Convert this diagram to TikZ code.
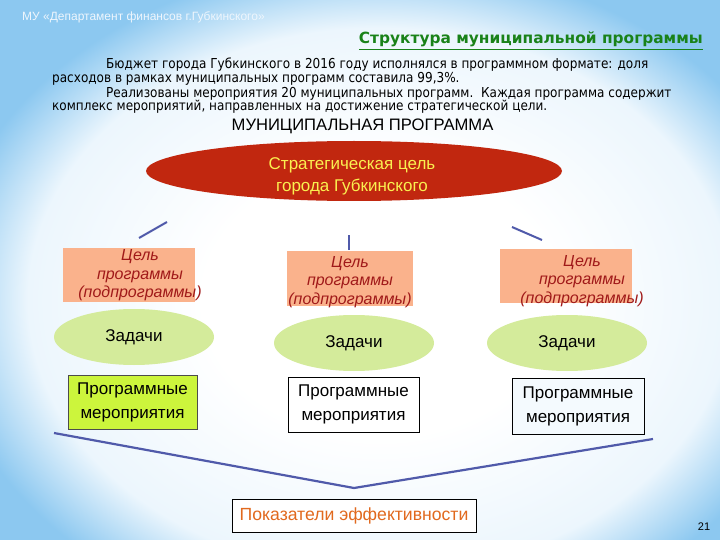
\documentclass[tikz,border=0pt]{standalone}
\usepackage{fontspec}
\setmainfont{Liberation Sans}
\newfontfamily\paraf{DejaVu Sans}[FakeStretch=0.88]
\newfontfamily\titlef{DejaVu Sans}
\usetikzlibrary{shapes.geometric}
\definecolor{bgblue}{RGB}{140,200,240}
\definecolor{bglight}{RGB}{236,246,253}
\definecolor{stratred}{RGB}{193,39,15}
\definecolor{yelltext}{RGB}{250,240,80}
\definecolor{pinkfill}{RGB}{250,178,140}
\definecolor{pinktext}{RGB}{160,25,25}
\definecolor{taskgreen}{RGB}{212,235,155}
\definecolor{limefill}{RGB}{204,245,60}
\definecolor{linkblue}{RGB}{80,90,170}
\definecolor{orangetext}{RGB}{225,105,30}
\definecolor{titlegreen}{RGB}{25,130,25}
\definecolor{headwhite}{RGB}{238,246,253}
\pgfdeclareradialshading{bgshade}{\pgfpoint{0bp}{0bp}}{color(0bp)=(white); color(10bp)=(white); color(20bp)=(bglight); color(25bp)=(bgblue); color(50bp)=(bgblue)}
\tikzset{
  goalbox/.style={rectangle, fill=pinkfill, inner sep=0pt},
  goaltext/.style={align=center, text=pinktext, font=\fontsize{16}{18.5}\selectfont\itshape, inner sep=0pt},
  taskell/.style={ellipse, fill=taskgreen, inner sep=0pt, minimum width=160, minimum height=56, font=\fontsize{17}{20}\selectfont},
  actbox/.style={rectangle, draw=black, line width=0.8pt, align=center, inner sep=0pt, font=\fontsize{17}{24}\selectfont},
  link/.style={draw=linkblue, line width=2pt},
  paraline/.style={anchor=base west, inner sep=0pt, font=\paraf\fontsize{13.7}{15}\selectfont}
}
\begin{document}
\begin{tikzpicture}[x=1pt,y=-1pt]
\useasboundingbox (0,0) rectangle (720,540);
\begin{scope}
\clip (0,0) rectangle (720,540);
\shade[shading=bgshade] (-60,-40) rectangle (820,640);
\end{scope}
% header
\node[anchor=base west, inner sep=0pt, text=headwhite, font=\fontsize{12}{14}\selectfont] (head) at (22,21) {МУ «Департамент финансов г.Губкинского»};
\node[anchor=base east, inner sep=0pt, text=titlegreen, font=\titlef\bfseries\fontsize{15.4}{17}\selectfont] (title) at (703,44) {\underline{Структура муниципальной программы}};
% paragraph
\node[paraline] (p1) at (106,69) {Бюджет города Губкинского в 2016 году исполнялся в программном формате: доля};
\node[paraline] (p2) at (52,83) {расходов в рамках муниципальных программ составила 99,3\%.};
\node[paraline] (p3) at (106,98) {Реализованы мероприятия 20 муниципальных программ.\ \ Каждая программа содержит};
\node[paraline] (p4) at (52,111) {комплекс мероприятий, направленных на достижение стратегической цели.};
\node[inner sep=0pt, font=\fontsize{16.6}{20}\selectfont] (mp) at (362.5,126) {МУНИЦИПАЛЬНАЯ ПРОГРАММА};
% strategic goal
\node[ellipse, fill=stratred, inner sep=0pt, minimum width=416, minimum height=60] (strat) at (354,171) {};
\node[align=center, inner sep=0pt, text=yelltext, font=\fontsize{17}{22}\selectfont] (strattext) at (352,176) {Стратегическая цель\\города Губкинского};
% links
\coordinate (la) at (139,238); \coordinate (lb) at (167,222);
\coordinate (ma) at (349,235); \coordinate (mb) at (349,250);
\coordinate (ra) at (512,227); \coordinate (rb) at (542,240);
\draw[link] (la) -- (lb);
\draw[link] (ma) -- (mb);
\draw[link] (ra) -- (rb);
% goal boxes
\node[goalbox, minimum width=132, minimum height=54] (g1) at (129,275) {};
\node[goalbox, minimum width=126, minimum height=55] (g2) at (350,278.5) {};
\node[goalbox, minimum width=132, minimum height=54] (g3) at (566,276) {};
\node[goaltext] (g1t) at (140,275.5) {Цель\\программы\\(подпрограммы)};
\node[goaltext] (g2t) at (350,282) {Цель\\программы\\(подпрограммы)};
\node[goaltext] (g3t) at (582,281) {Цель\\программы\\(подпрограммы)};
% tasks
\node[taskell] (t1) at (134,337) {Задачи};
\node[taskell] (t2) at (354,343) {Задачи};
\node[taskell] (t3) at (567,343) {Задачи};
% activities
\node[actbox, fill=limefill, draw=black!70, minimum width=129, minimum height=54] (a1) at (132.5,402) {Программные\\мероприятия};
\node[actbox, fill=white, minimum width=131, minimum height=55] (a2) at (353.5,404.5) {Программные\\мероприятия};
\node[actbox, fill=bglight!60!white, minimum width=132, minimum height=56] (a3) at (578,406) {Программные\\мероприятия};
% V connector
\coordinate (vl) at (54,433);
\coordinate (vm) at (354,488);
\coordinate (vr) at (653,439);
\draw[link, line width=2.2pt] (vl) -- (vm) -- (vr);
% indicators
\node[rectangle, draw=black, line width=0.8pt, fill=white, minimum width=244, minimum height=33, inner sep=0pt, text=orangetext, font=\fontsize{17.6}{20}\selectfont] (ind) at (354,515.5) {Показатели эффективности};
\node[inner sep=0pt, font=\fontsize{11}{13}\selectfont] (pg) at (704,527) {21};
\end{tikzpicture}
\end{document}
